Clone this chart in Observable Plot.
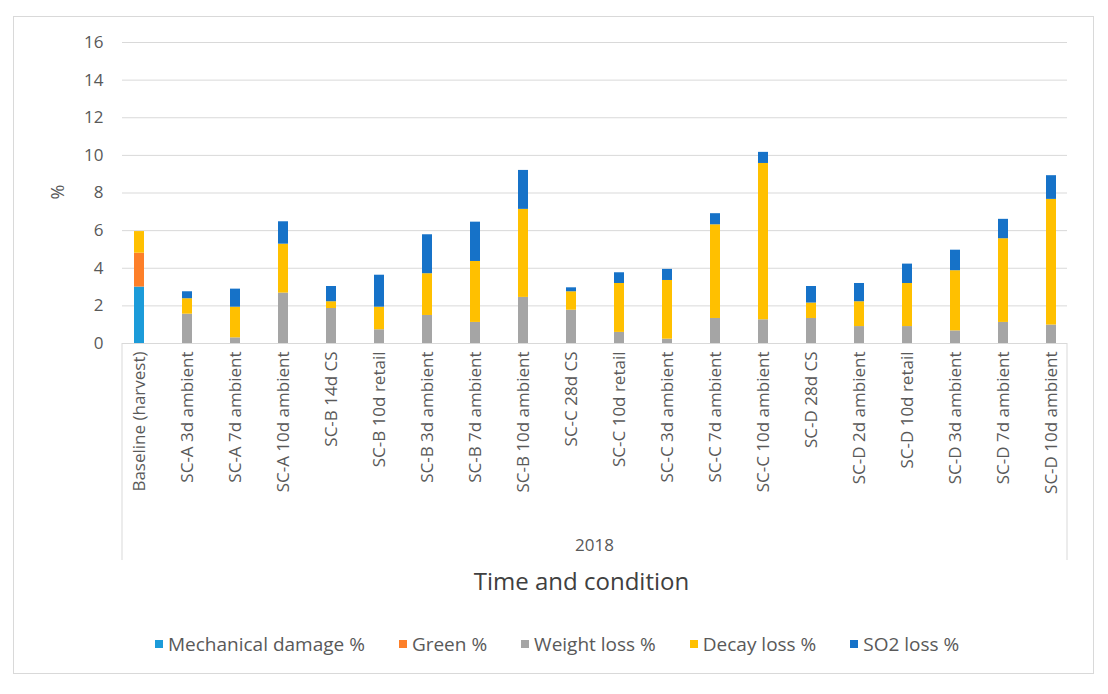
<!DOCTYPE html>
<html><head><meta charset="utf-8">
<script src="https://cdn.jsdelivr.net/npm/d3@7"></script>
<script src="https://cdn.jsdelivr.net/npm/@observablehq/plot@0.6"></script>
<style>
body{margin:0;background:#fff;font-family:"Open Sans",sans-serif;}
#wrap{position:relative;width:1108px;height:694px;overflow:hidden;}
#frame{position:absolute;left:13px;top:16px;width:1079px;height:656px;border:1px solid #d9d9d9;box-sizing:content-box;}
#chart{position:absolute;left:0;top:0;}
.lbl{position:absolute;color:#595959;white-space:nowrap;}
#year{left:0;width:1189px;text-align:center;top:533px;font-size:17px;}
#xtitle{left:0;width:1163px;text-align:center;top:564px;font-size:24px;color:#404040;}
#ytitle{left:50px;top:180px;font-size:18px;transform:rotate(-90deg);transform-origin:center;}
#legend{position:absolute;left:155px;top:631px;display:flex;gap:34px;font-size:19px;color:#595959;align-items:center;}
#legend .it{display:flex;align-items:center;}
#legend .sw{width:8px;height:8px;margin-right:5px;}
</style>
</head><body>
<div id="wrap">
<div id="frame"></div>
<div id="chart"></div>
<div id="ytitle" class="lbl">%</div>
<div id="year" class="lbl">2018</div>
<div id="xtitle" class="lbl">Time and condition</div>
<div id="legend"></div>
</div>
<script>
const categories = ["Baseline (harvest)","SC-A 3d ambient","SC-A 7d ambient","SC-A 10d ambient","SC-B 14d CS","SC-B 10d retail","SC-B 3d ambient","SC-B 7d ambient","SC-B 10d ambient","SC-C 28d CS","SC-C 10d retail","SC-C 3d ambient","SC-C 7d ambient","SC-C 10d ambient","SC-D 28d CS","SC-D 2d ambient","SC-D 10d retail","SC-D 3d ambient","SC-D 7d ambient","SC-D 10d ambient"];
const seriesNames = ["Mechanical damage %","Green %","Weight loss %","Decay loss %","SO2 loss %"];
const seriesColors = ["#1c9bd9","#fd7f29","#a5a5a5","#ffc000","#1672c8"];
const mechanical = [3.0,0,0,0,0,0,0,0,0,0,0,0,0,0,0,0,0,0,0,0];
const green = [1.8,0,0,0,0,0,0,0,0,0,0,0,0,0,0,0,0,0,0,0];
const weightLoss = [0,1.56,0.30,2.68,1.86,0.73,1.49,1.12,2.45,1.77,0.59,0.23,1.33,1.26,1.33,0.90,0.90,0.67,1.12,0.98];
const decayLoss = [1.15,0.82,1.63,2.60,0.36,1.20,2.22,3.24,4.68,0.98,2.60,3.12,4.98,8.31,0.82,1.32,2.29,3.20,4.45,6.68];
const so2Loss = [0,0.37,0.96,1.19,0.81,1.70,2.07,2.09,2.07,0.21,0.57,0.59,0.59,0.59,0.88,0.97,1.03,1.09,1.03,1.26];
const yTicks = [0,2,4,6,8,10,12,14,16];

const seriesValues = [mechanical, green, weightLoss, decayLoss, so2Loss];
const rows = [];
seriesNames.forEach((s, i) => {
  categories.forEach((c, j) => rows.push({category: c, series: s, value: seriesValues[i][j]}));
});

const chart = Plot.plot({
  width: 1108,
  height: 560,
  marginLeft: 122,
  marginRight: 41,
  marginTop: 42,
  marginBottom: 217,
  style: {fontFamily: '"Open Sans", sans-serif', background: "transparent"},
  x: {domain: categories, type: "band", paddingInner: 0.8, paddingOuter: 0.16},
  y: {domain: [0, 16]},
  color: {domain: seriesNames, range: seriesColors},
  marks: [
    Plot.gridY(yTicks, {stroke: "#d9d9d9", strokeOpacity: 1, strokeWidth: 1}),
    Plot.barY(rows, {x: "category", y: "value", fill: "series", z: "series", order: seriesNames}),
    Plot.ruleY([0], {stroke: "#d9d9d9", strokeWidth: 1}),
    Plot.axisY({ticks: yTicks, tickSize: 0, tickPadding: 19, label: null, fontSize: 17, color: "#595959"}),
    Plot.axisX({tickSize: 0, tickPadding: 8, tickRotate: -90, label: null, fontSize: 17, color: "#595959"})
  ]
});
document.getElementById("chart").appendChild(chart);

// category axis box side lines
const xr = chart.scale("x").range;
const yr = chart.scale("y").range;
const svg = d3.select(chart);
[xr[0], xr[1]].forEach(xx => {
  svg.append("line").attr("x1", xx).attr("x2", xx).attr("y1", yr[0]).attr("y2", 560)
    .attr("stroke", "#d9d9d9").attr("stroke-width", 1);
});

const legend = d3.select("#legend");
seriesNames.forEach((s, i) => {
  const it = legend.append("div").attr("class", "it");
  it.append("div").attr("class", "sw").style("background", seriesColors[i]);
  it.append("span").text(s);
});
</script>
</body></html>
